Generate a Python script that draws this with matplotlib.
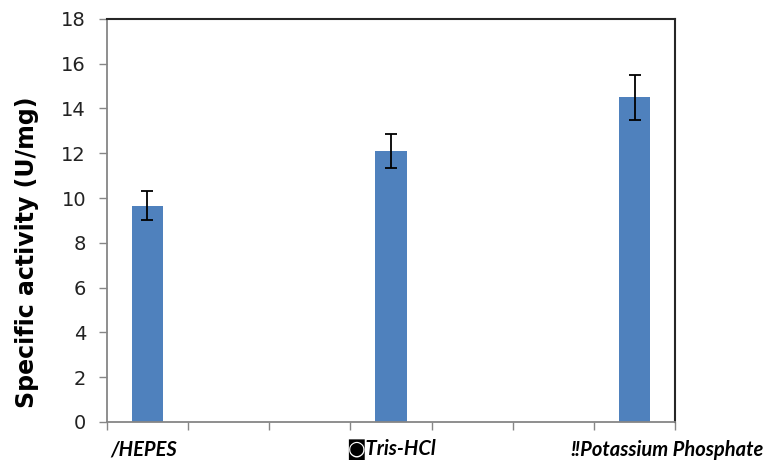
import matplotlib.pyplot as plt
import numpy as np

# buffers and measured activity
buffers = ['/HEPES', '\u25d9Tris-HCl', '\u203cPotassium Phosphate']
activity = [9.65, 12.1, 14.5]
errors = [0.65, 0.75, 1.0]
positions = [0.5, 3.5, 6.5]
yticks = np.arange(0, 19, 2)

plt.rcParams['font.family'] = ['Lato', 'DejaVu Sans']

fig = plt.figure(figsize=(7.69, 4.72), dpi=100)
ax = fig.add_axes([0.139, 0.106, 0.739, 0.854])

ax.bar(positions, activity, width=0.39, color='#4f81bd', zorder=2)
ax.errorbar(positions, activity, yerr=errors, fmt='none', ecolor='black',
            elinewidth=1.3, capsize=4.5, capthick=1.3, zorder=3)

ax.set_xlim(0, 7)
ax.set_ylim(0, 18)
ax.set_yticks(yticks)
ax.set_xticks(range(8))
ax.set_xticklabels([])
ax.tick_params(axis='both', direction='out', length=6, width=1, color='#868686')
ax.tick_params(axis='y', labelsize=14, pad=9)
for lab in ax.get_yticklabels():
    lab.set_family(['DejaVu Sans'])
    lab.set_color('#222222')

for side in ['left', 'bottom']:
    ax.spines[side].set_color('#868686')
    ax.spines[side].set_linewidth(1.3)
for side in ['top', 'right']:
    ax.spines[side].set_color('#262626')
    ax.spines[side].set_linewidth(1.5)

# category labels below the axis
label_x = [0.45, 3.5, 8.08]
label_ha = ['center', 'center', 'right']
for x, ha, name in zip(label_x, label_ha, buffers):
    ax.text(x, -1.25, name, ha=ha, va='center', fontsize=14.5,
            fontweight='bold', fontstyle='italic', clip_on=False)

ax.set_ylabel('Specific activity (U/mg)', fontsize=17, fontweight='bold',
              family=['DejaVu Sans'])
ax.yaxis.set_label_coords(-0.12, 0.42)

fig.savefig('out.png', dpi=100)
